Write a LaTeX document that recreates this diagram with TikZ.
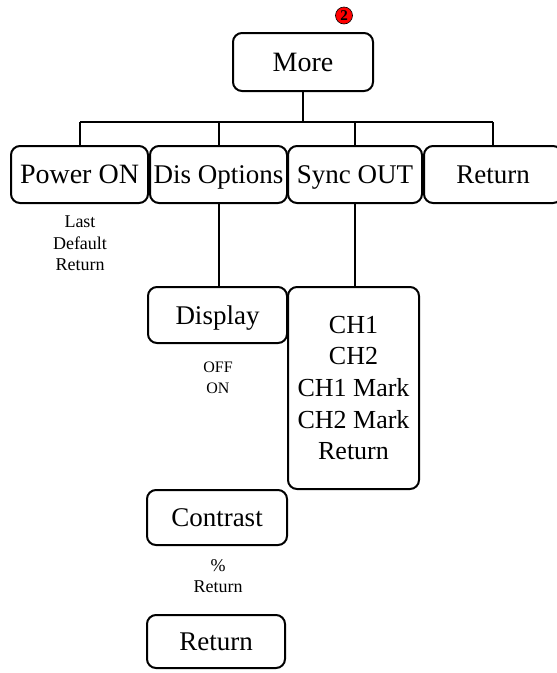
\documentclass[tikz,border=0pt]{standalone}
\usepackage{fontspec}
\setmainfont{Liberation Serif}
\begin{document}
\begin{tikzpicture}[x=1pt,y=-1pt,
  box/.style={draw, line width=2pt, rounded corners=9pt, inner sep=0pt, align=center},
  big/.style={font=\fontsize{27}{30}\selectfont, text height=21.5pt, text depth=3.5pt},
  small/.style={font=\fontsize{18}{21.5}\selectfont, align=center, inner sep=0pt},
  conn/.style={line width=2pt}]
\useasboundingbox (0,0) rectangle (557,673);
% badge
\node[circle, fill=red, draw=black, line width=0.6pt, minimum size=17pt, inner sep=0pt,
  font=\fontsize{15}{15}\selectfont\bfseries] (badge) at (344,15.5) {2};
% top
\node[box, big, font=\fontsize{28}{30}\selectfont, minimum width=140pt, minimum height=58pt] (more) at (303,62) {More};
% row 2
\node[box, big, font=\fontsize{28}{30}\selectfont, minimum width=137pt, minimum height=57pt] (power) at (79.5,174.5) {Power ON};
\node[box, big, minimum width=137pt, minimum height=57pt] (dis) at (218.5,174.5) {Dis Options};
\node[box, big, minimum width=134pt, minimum height=57pt] (sync) at (355,174.5) {Sync OUT};
\node[box, big, minimum width=138pt, minimum height=57pt] (ret) at (493,174.5) {Return};
% bus
\coordinate (busL) at (80,122);
\coordinate (busR) at (493,122);
\draw[conn] (busL) -- (busR);
\draw[conn] (more.south) -- (more.south |- busL);
\draw[conn] (power.north) -- (power.north |- busL);
\draw[conn] (dis.north) -- (dis.north |- busL);
\draw[conn] (sync.north) -- (sync.north |- busL);
\draw[conn] (ret.north) -- (ret.north |- busL);
% power options
\node[small] (powtxt) at (80,243.5) {Last\\Default\\Return};
% display branch
\node[box, big, minimum width=139pt, minimum height=56pt] (display) at (217.5,315) {Display};
\draw[conn] (dis.south) -- (dis.south |- display.north);
\node[small, font=\fontsize{16}{21}\selectfont] (distxt) at (218,377.5) {OFF\\ON};
\node[box, big, minimum width=140pt, minimum height=55pt] (contrast) at (217,517.5) {Contrast};
\node[small] (contxt) at (218,576) {\%\\Return};
\node[box, big, minimum width=138pt, minimum height=53pt] (ret2) at (216,641.5) {Return};
% sync branch
\node[box, font=\fontsize{26}{31.7}\selectfont, minimum width=131pt, minimum height=202pt] (ch) at (353.5,388) {CH1\\CH2\\CH1 Mark\\CH2 Mark\\Return};
\draw[conn] (sync.south) -- (sync.south |- ch.north);
\end{tikzpicture}
\end{document}
